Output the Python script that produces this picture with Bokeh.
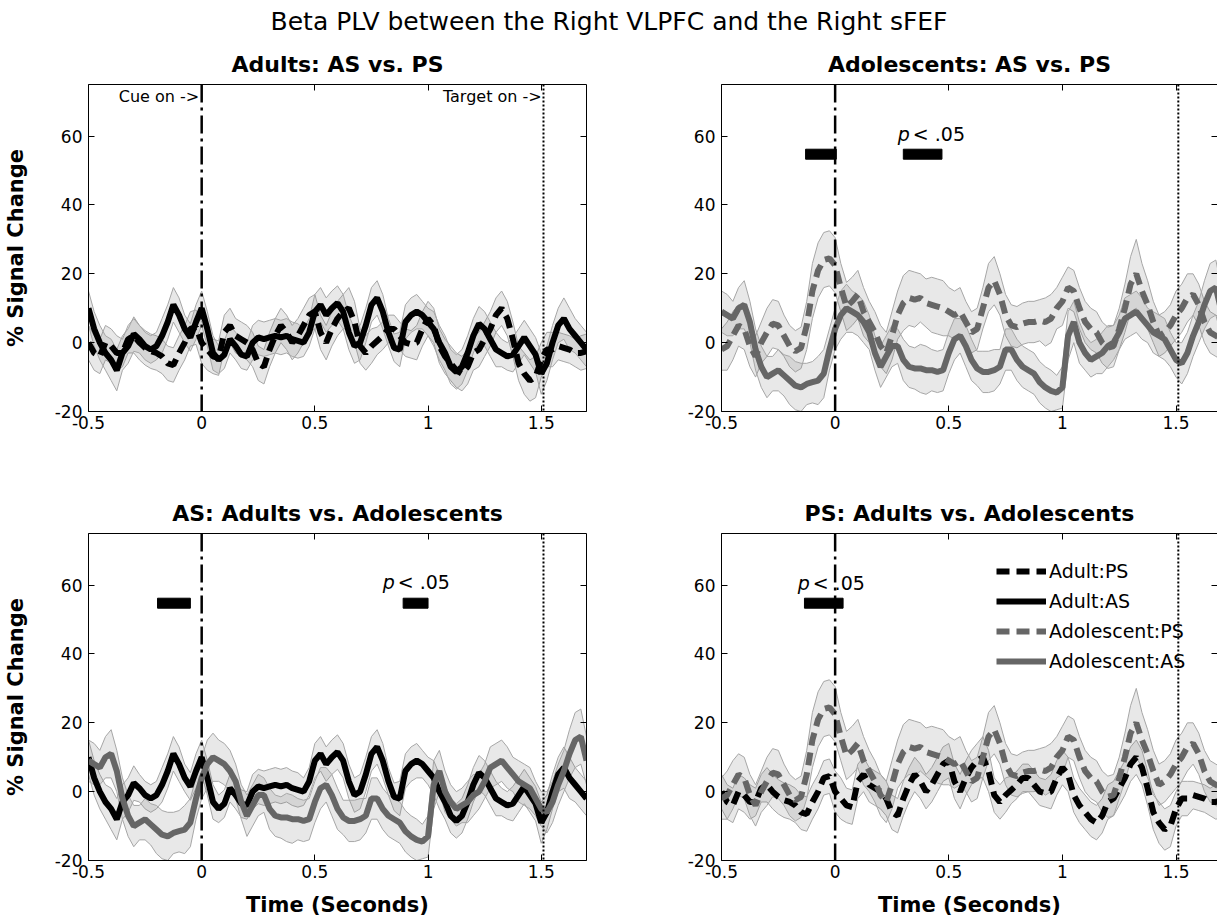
import numpy as np
from bokeh.plotting import figure
from bokeh.layouts import column, row
from bokeh.models import (Range1d, LinearAxis, FixedTicker, CustomJSTickFormatter,
                          Span, Title, Label, Legend, LegendItem)
from bokeh.core.properties import value
from bokeh.embed import file_html
from bokeh.resources import INLINE

FONT = "DejaVu Sans"

# ---- data: mean beta PLV (% signal change) and SEM, sampled every 25 ms ----
time_s = np.linspace(-0.5, 1.7, 89)

adult_ps = [0, -3, -4, 0, -1, -3, -3, 1, 2, 0, -1.5, -2.5, -3, -4, -6, -6.5, -3, 0, 4, 4.5,
            0, -2, -4, -4.5, 3, 5, 2, 1, 0, -2, -6, -7, -2, 2, 5, 3, 0, 2, 5, 8,
            9, 3, 0, 4, 7, 9, 10, 6, -1, -3, -1, 0.5, 2, 4, 4, 2, 0, -0.5, 0, 4,
            7, 5, -1, -4, -6, -8, -9, -7, -3, -2, 1, 4, 8, 10, 7, 1, -6, -9, -11, -10,
            -5, -2, -2, -1, -1.5, -2, -3, -3, -2.5]
adult_ps_sem = [5, 5, 5, 5, 5, 5, 4, 4, 5, 5, 5, 5, 5, 5, 5, 5, 5, 5, 5, 5,
                6, 6, 5, 5, 5, 5, 5, 5, 5, 5, 5, 5, 5, 5, 5, 5, 5, 5, 5, 5,
                5, 5, 5, 5, 5, 5, 6, 6, 5, 5, 5, 4, 4, 4, 4, 4, 4, 4, 5, 5,
                5, 5, 5, 5, 5, 5, 5, 5, 5, 5, 5, 5, 5, 5, 5, 5, 5, 6, 6, 6,
                5, 5, 5, 4, 4, 4, 4, 5, 5]

adult_as = [10, 4, 0, -3, -5, -8, -3, -1, 2.5, 1, -1, -2, -1, 2, 6, 11, 8, 4, 1.5, 6,
            10, 4, -3, -5, -3.5, 1, -1, -3.5, -4, 0, 1.5, 1, 1.5, 2, 1.5, 2, 1, 0.5, 0, 3,
            9, 11, 8, 10, 11.5, 9, 3, -1, 0, 5, 11, 13, 9, 3, -1.5, -2, 6, 8, 9, 8,
            6, 4, 0, -3, -7, -8.5, -7, -3, 2, 5.5, 4, 1, -2, -3, -4, -3.5, -1, 1.5, -1, -3.5,
            -9, -6, 0, 5, 7, 4, 2, 0, -2]
adult_as_sem = [5, 5, 5, 5, 6, 6, 5, 5, 5, 4, 4, 4, 4, 5, 5, 5, 5, 4, 4, 5,
                5, 5, 5, 4, 4, 4, 4, 4, 4, 5, 5, 5, 5, 5, 5, 5, 5, 5, 4, 4,
                5, 5, 5, 5, 5, 5, 5, 5, 5, 5, 5, 5, 5, 4, 4, 5, 5, 5, 5, 4,
                4, 5, 5, 5, 5, 5, 5, 5, 5, 5, 5, 5, 5, 4, 4, 5, 5, 5, 5, 5,
                6, 5, 5, 5, 6, 6, 5, 5, 5]

adol_ps = [-2, -1, 2, 5, 4, -1, -4, 0, 3, 5.5, 5, 2, -1, -2.5, -1.5, 5, 15, 21, 24, 24.5,
           22.5, 16, 10.5, 12, 14, 9, 6, 3, -1, -3, 2, 8, 11.5, 13, 12.5, 13, 11.5, 11, 10.5, 10,
           9, 8, 9, 6, 3, 4, 10, 16, 18, 14, 8, 5, 4.5, 5.5, 6, 6, 6.5, 6, 7, 10,
           12, 16, 15, 10, 6, 4, 3, 0, -1.5, -1, 4, 10, 17, 20, 15, 11, 6, 2, 3, 5,
           8, 10, 13, 14, 11, 6, 3, 2, 1]
adol_ps_sem = [6, 7, 7, 6, 6, 6, 6, 6, 7, 7, 7, 6, 6, 6, 6, 7, 8, 8, 8, 8,
               8, 7, 7, 7, 7, 7, 6, 6, 6, 6, 7, 7, 8, 8, 8, 7, 7, 8, 8, 8,
               7, 7, 7, 6, 6, 6, 6, 7, 7, 6, 6, 6, 6, 6, 6, 6, 6, 7, 7, 6,
               7, 6, 6, 6, 6, 6, 6, 6, 6, 6, 6, 7, 8, 10, 8, 7, 6, 6, 6, 6,
               7, 7, 7, 6, 6, 6, 6, 6, 6]

adol_as = [9, 8, 7, 10, 11, 6, -2, -7, -10, -9, -8, -9.5, -11, -12.5, -13, -12, -11.5, -11, -9, -2,
           4, 8, 10, 9, 8, 6, 3, -3, -7, -4, -1, -1, -5, -7, -7.5, -7.5, -8, -8, -8.5, -8,
           -3, 1, 2, -1, -5, -7.5, -8.5, -8.5, -8, -7, -2, -2, -5, -7, -8, -9, -11.5, -13, -14, -14.5,
           -13, 2, 6, 0, -3, -5, -4, -3, -1, 0, 3, 7, 8, 9, 7, 5, 3, 2, 1, -2,
           -5, -6, -3, 2, 6, 11, 15, 16, 9]
adol_as_sem = [6, 6, 5, 6, 7, 6, 6, 6, 6, 5, 6, 6, 7, 7, 7, 6, 6, 7, 7, 6,
               6, 7, 7, 6, 6, 6, 5, 5, 6, 6, 6, 5, 6, 6, 6, 7, 7, 6, 6, 6,
               6, 6, 5, 6, 6, 5, 6, 6, 6, 5, 6, 6, 6, 6, 6, 6, 6, 6, 6, 5,
               6, 7, 6, 6, 5, 5, 5, 6, 6, 5, 5, 6, 6, 6, 6, 5, 6, 6, 6, 5,
               5, 6, 6, 6, 6, 7, 8, 8, 7]

x_ticks = [-0.5, 0, 0.5, 1, 1.5]
y_ticks = [-20, 0, 20, 40, 60]
cue_t = 0.0
target_t = 1.51

# significant-difference windows (start, end in seconds) and "p < .05" anchors
sig_adol_start = [-0.13, 0.30]
sig_adol_end = [0.005, 0.47]
sig_as_start = [-0.195, 0.89]
sig_as_end = [-0.05, 1.0]
sig_ps_start = [-0.135]
sig_ps_end = [0.035]
sig_level = 54.75
p_label_adol = (0.276, 60.5)
p_label_as = (0.80, 61.0)
p_label_ps = (-0.165, 60.5)

SERIES = {
    "adult_ps": dict(label="Adult:PS", mean=adult_ps, sem=adult_ps_sem, color="#000000", dash="13 7"),
    "adult_as": dict(label="Adult:AS", mean=adult_as, sem=adult_as_sem, color="#000000", dash="solid"),
    "adol_ps": dict(label="Adolescent:PS", mean=adol_ps, sem=adol_ps_sem, color="#666666", dash="13 7"),
    "adol_as": dict(label="Adolescent:AS", mean=adol_as, sem=adol_as_sem, color="#666666", dash="solid"),
}

PANELS = [
    dict(title="Adults: AS vs. PS", keys=["adult_ps", "adult_as"], sig=([], []), plabel=None,
         col=0, rowi=0, cue_text=True, legend=False),
    dict(title="Adolescents: AS vs. PS", keys=["adol_ps", "adol_as"], sig=(sig_adol_start, sig_adol_end),
         plabel=p_label_adol, col=1, rowi=0, cue_text=False, legend=False),
    dict(title="AS: Adults vs. Adolescents", keys=["adult_as", "adol_as"], sig=(sig_as_start, sig_as_end),
         plabel=p_label_as, col=0, rowi=1, cue_text=False, legend=False),
    dict(title="PS: Adults vs. Adolescents", keys=["adult_ps", "adol_ps"], sig=(sig_ps_start, sig_ps_end),
         plabel=p_label_ps, col=1, rowi=1, cue_text=False, legend=True),
]

LEFT_W, RIGHT_W = 640, 577
TITLE_H, TOP_H, BOT_H = 40, 420, 463
PX_PER_S = 500 / 2.2


def blank_axis(dim_ticks, hide_line=False):
    ax = LinearAxis(ticker=FixedTicker(ticks=dim_ticks),
                    formatter=CustomJSTickFormatter(code="return ''"),
                    major_tick_in=6, major_tick_out=0, minor_tick_in=0, minor_tick_out=0,
                    major_label_standoff=0, major_label_text_font_size="1px",
                    axis_line_color=None if hide_line else "black",
                    major_tick_line_color="black")
    return ax


def style_main_axis(ax, ticks, standoff):
    ax.ticker = FixedTicker(ticks=ticks)
    ax.formatter = CustomJSTickFormatter(code="return String(tick)")
    ax.major_tick_in = 6
    ax.major_tick_out = 0
    ax.minor_tick_in = 0
    ax.minor_tick_out = 0
    ax.axis_line_color = "black"
    ax.major_tick_line_color = "black"
    ax.major_label_text_font = FONT
    ax.major_label_text_font_size = "17px"
    ax.major_label_text_color = "black"
    ax.major_label_standoff = standoff
    ax.axis_label_text_font = FONT
    ax.axis_label_text_font_size = "21px"
    ax.axis_label_text_font_style = "bold"
    ax.axis_label_text_color = "black"


def make_panel(cfg):
    left = cfg["col"] == 0
    top = cfg["rowi"] == 0
    width = LEFT_W if left else RIGHT_W
    height = TOP_H if top else BOT_H
    mbl = 86 if left else 81
    mbr = 54 if left else 0
    mbt = 44 if top else 73
    mbb = 49 if top else 63
    frame_w = width - mbl - mbr
    x_end = -0.5 + frame_w / PX_PER_S

    p = figure(width=width, height=height, x_range=Range1d(-0.5, x_end), y_range=Range1d(-20, 75),
               output_backend="svg", toolbar_location=None, title=None,
               min_border_left=mbl, min_border_right=mbr, min_border_top=mbt, min_border_bottom=mbb,
               outline_line_color=None, background_fill_color="white", border_fill_color="white")
    p.xgrid.visible = False
    p.ygrid.visible = False

    style_main_axis(p.xaxis[0], x_ticks, 4)
    style_main_axis(p.yaxis[0], y_ticks, 6)
    if left:
        p.yaxis[0].axis_label = "% Signal Change"
        p.yaxis[0].axis_label_standoff = 24
    if not top:
        p.xaxis[0].axis_label = "Time (Seconds)"
        p.xaxis[0].axis_label_standoff = 12

    p.add_layout(blank_axis(x_ticks), "above")
    p.add_layout(blank_axis(y_ticks, hide_line=not left), "right")
    p.add_layout(Title(text=cfg["title"], align="center", text_font=FONT, text_font_size="22px",
                       text_font_style="bold", text_color="black", standoff=16), "above")

    # confidence bands first, then the mean traces on top
    for key in cfg["keys"]:
        s = SERIES[key]
        m = np.asarray(s["mean"], dtype=float)
        e = np.asarray(s["sem"], dtype=float)
        p.varea(x=time_s, y1=m - e, y2=m + e, fill_color="#808080", fill_alpha=0.18)
        p.line(time_s, m - e, line_color="#a6a6a6", line_width=1)
        p.line(time_s, m + e, line_color="#a6a6a6", line_width=1)
    renderers = {}
    for key in cfg["keys"]:
        s = SERIES[key]
        renderers[key] = p.line(time_s, s["mean"], line_color=s["color"], line_width=6,
                                line_dash=s["dash"])

    p.add_layout(Span(location=cue_t, dimension="height", line_color="black", line_width=2.5,
                      line_dash="18 5 3 5"))
    p.add_layout(Span(location=target_t, dimension="height", line_color="black", line_width=2,
                      line_dash="2 2"))

    if cfg["cue_text"]:
        p.text(x=[cue_t - 0.011], y=[71.5], text=["Cue on ->"], text_align="right",
               text_baseline="middle", text_font=value(FONT), text_font_size="16px", text_color="black")
        p.text(x=[target_t - 0.008], y=[71.5], text=["Target on ->"], text_align="right",
               text_baseline="middle", text_font=value(FONT), text_font_size="16px", text_color="black")

    starts, ends = cfg["sig"]
    if starts:
        p.quad(left=starts, right=ends, bottom=[sig_level - 1.45] * len(starts),
               top=[sig_level + 1.45] * len(starts), fill_color="black", line_color="black")
    if cfg["plabel"] is not None:
        px, py = cfg["plabel"]
        p.text(x=[px], y=[py], text=["p"], text_font=value(FONT), text_font_size="19px",
               text_font_style="italic", text_baseline="middle", text_color="black")
        p.text(x=[px], y=[py], text=["< .05"], x_offset=15, text_font=value(FONT),
               text_font_size="19px", text_baseline="middle", text_color="black")

    if cfg["legend"]:
        # legend keys for the two AS traces shown in the other panels
        for key in ["adult_as", "adol_as"]:
            if key not in renderers:
                s = SERIES[key]
                renderers[key] = p.line(x=[0.0, 0.1], y=[np.nan, np.nan], line_color=s["color"],
                                        line_width=6, line_dash=s["dash"])
        order = ["adult_ps", "adult_as", "adol_ps", "adol_as"]
        legend = Legend(items=[LegendItem(label=SERIES[k]["label"], renderers=[renderers[k]]) for k in order],
                        location=(275, 184), orientation="vertical",
                        label_text_font=FONT, label_text_font_size="19px", label_text_color="black",
                        glyph_width=50, glyph_height=30, label_height=30, label_standoff=3,
                        spacing=0, padding=0, margin=0, border_line_alpha=0, background_fill_alpha=0)
        p.add_layout(legend)
    return p


title_fig = figure(width=1217, height=TITLE_H, output_backend="svg", toolbar_location=None,
                   x_axis_location=None, y_axis_location=None, min_border=0,
                   outline_line_color=None, title=None)
title_fig.xgrid.visible = False
title_fig.ygrid.visible = False
title_fig.add_layout(Label(x=608.5, y=TITLE_H - 21, x_units="screen", y_units="screen",
                           text="Beta PLV between the Right VLPFC and the Right sFEF",
                           text_align="center", text_baseline="middle", text_font=FONT,
                           text_font_size="25px", text_color="black"))

figs = [make_panel(c) for c in PANELS]
layout = column(title_fig, row(figs[0], figs[1]), row(figs[2], figs[3]))

open("out.html", "w").write(file_html(layout, INLINE))
